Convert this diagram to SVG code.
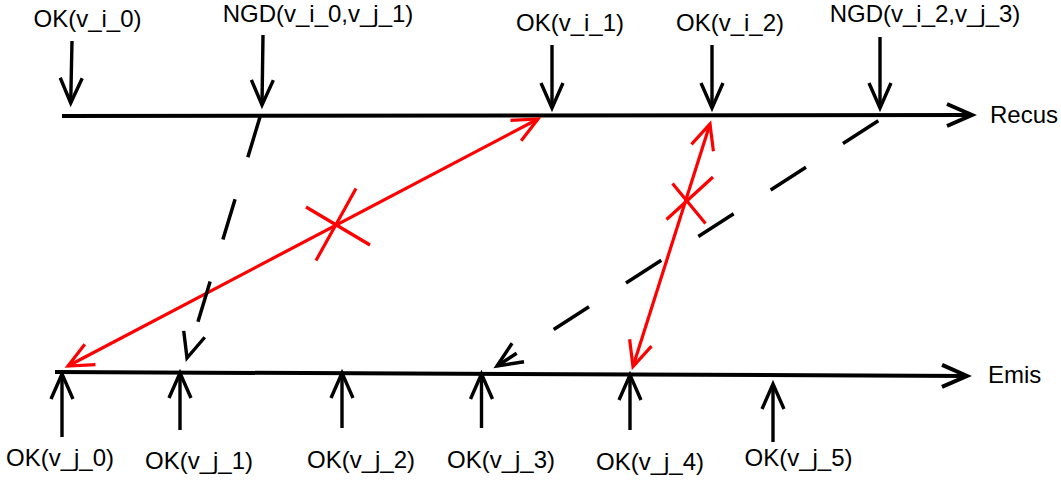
<svg xmlns="http://www.w3.org/2000/svg" width="1061" height="483" viewBox="0 0 1061 483">
<defs>
<marker id="ab" markerUnits="userSpaceOnUse" markerWidth="40" markerHeight="40" refX="0" refY="0" orient="auto-start-reverse" overflow="visible"><path d="M-25,-11 L0,0 L-25,11" fill="none" stroke="#000" stroke-width="3.4"/></marker>
<marker id="ar" markerUnits="userSpaceOnUse" markerWidth="40" markerHeight="40" refX="0" refY="0" orient="auto-start-reverse" overflow="visible"><path d="M-25,-11.5 L0,0 L-25,11.5" fill="none" stroke="#f00" stroke-width="3.2"/></marker>
<marker id="axis" markerUnits="userSpaceOnUse" markerWidth="40" markerHeight="40" refX="0" refY="0" orient="auto" overflow="visible"><path d="M-25,-11 L0,0 L-25,11" fill="none" stroke="#000" stroke-width="4"/></marker>
</defs>
<style>
text{font-family:"Liberation Sans",Arial,sans-serif;font-size:24px;fill:#000}
.lbl{text-anchor:middle}
.axis{stroke:#000;stroke-width:4;fill:none;marker-end:url(#axis)}
.ev{stroke:#000;stroke-width:3.4;fill:none;marker-end:url(#ab)}
.red{stroke:#f00;stroke-width:3.2;fill:none;marker-start:url(#ar);marker-end:url(#ar)}
.x{stroke:#f00;stroke-width:3.2;fill:none}
.dash{stroke:#000;stroke-width:3.5;fill:none;stroke-dasharray:42 44;marker-end:url(#ab)}
</style>
<g id="axis-recus"><path class="axis" d="M62,116 L972,115"/><text x="990" y="123">Recus</text></g>
<g id="axis-emis"><path class="axis" d="M55,372 L967,376"/><text x="988" y="383">Emis</text></g>
<g id="ok-v_i_0"><text class="lbl" x="87.5" y="27">OK(v_i_0)</text><path class="ev" d="M72,41 L70.7,103"/></g>
<g id="ngd-v_i_0-v_j_1"><text class="lbl" x="318" y="22">NGD(v_i_0,v_j_1)</text><path class="ev" d="M263,35 L262,105"/></g>
<g id="ok-v_i_1"><text class="lbl" x="570" y="31">OK(v_i_1)</text><path class="ev" d="M552,45 L552,108"/></g>
<g id="ok-v_i_2"><text class="lbl" x="730" y="31">OK(v_i_2)</text><path class="ev" d="M712,45 L712,108"/></g>
<g id="ngd-v_i_2-v_j_3"><text class="lbl" x="925" y="22">NGD(v_i_2,v_j_3)</text><path class="ev" d="M880,37 L880,108"/></g>
<g id="ok-v_j_0"><path class="ev" d="M62,437 L62,374"/><text class="lbl" x="60" y="466">OK(v_j_0)</text></g>
<g id="ok-v_j_1"><path class="ev" d="M180,430 L180,373"/><text class="lbl" x="199" y="469">OK(v_j_1)</text></g>
<g id="ok-v_j_2"><path class="ev" d="M342,428 L342,373"/><text class="lbl" x="361" y="468">OK(v_j_2)</text></g>
<g id="ok-v_j_3"><path class="ev" d="M481.5,428 L481.5,374"/><text class="lbl" x="501" y="468">OK(v_j_3)</text></g>
<g id="ok-v_j_4"><path class="ev" d="M630,430 L630,375"/><text class="lbl" x="650" y="470">OK(v_j_4)</text></g>
<g id="ok-v_j_5"><path class="ev" d="M773,442 L773,384"/><text class="lbl" x="798.5" y="466">OK(v_j_5)</text></g>
<g id="connectors">
<path class="red" d="M68,366 L538,119"/>
<path class="x" d="M306,207 L370,245 M356,188.5 L316,260.5"/>
<path class="red" d="M710,124 L633,366.5"/>
<path class="x" d="M672.5,183.5 L705.5,223.5 M713,177 L666.5,219.5"/>
<path class="dash" d="M260,117 L187,358"/>
<path class="dash" d="M878.3,120.7 L497,366"/>
</g>
</svg>
